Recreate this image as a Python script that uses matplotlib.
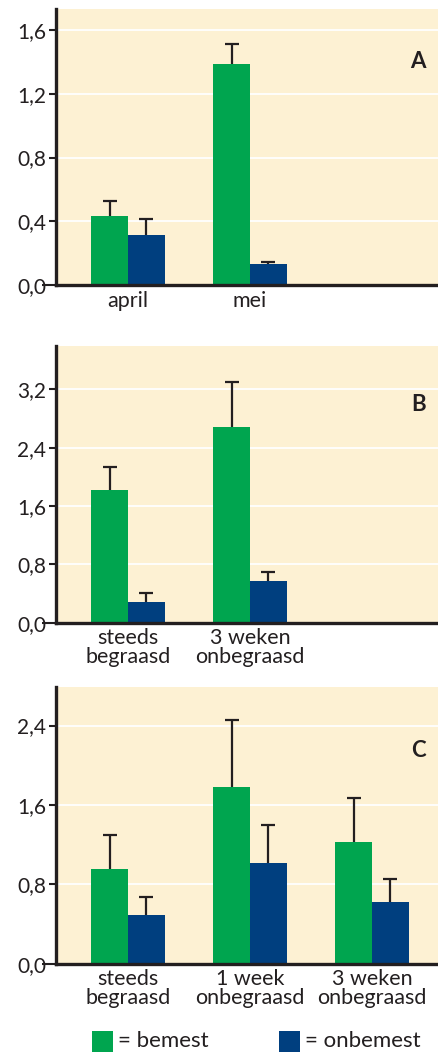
import matplotlib
matplotlib.use("Agg")
import matplotlib.pyplot as plt
from matplotlib.patches import Rectangle
import numpy as np

plt.rcParams['font.family'] = ['Lato', 'DejaVu Sans']

# ---- data ----
cats_A = ["april", "mei"]
bemest_A = [0.433, 1.388]
bemest_A_err = [0.093, 0.128]
onbemest_A = [0.314, 0.132]
onbemest_A_err = [0.099, 0.012]
yticks_A = [0.0, 0.4, 0.8, 1.2, 1.6]
ylim_A = 1.733

cats_B = ["steeds\nbegraasd", "3 weken\nonbegraasd"]
bemest_B = [1.816, 2.68]
bemest_B_err = [0.324, 0.62]
onbemest_B = [0.28, 0.568]
onbemest_B_err = [0.13, 0.132]
yticks_B = [0.0, 0.8, 1.6, 2.4, 3.2]
ylim_B = 3.795

cats_C = ["steeds\nbegraasd", "1 week\nonbegraasd", "3 weken\nonbegraasd"]
bemest_C = [0.955, 1.78, 1.227]
bemest_C_err = [0.345, 0.68, 0.443]
onbemest_C = [0.49, 1.015, 0.622]
onbemest_C_err = [0.185, 0.385, 0.228]
yticks_C = [0.0, 0.8, 1.6, 2.4]
ylim_C = 2.785

panel_labels = ["A", "B", "C"]
legend_labels = ["= bemest", "= onbemest"]

GREEN = "#00a54f"
BLUE = "#003f7f"
DARK = "#231f20"
CREAM = "#fdf1d3"

fig = plt.figure(figsize=(4.38, 10.52), dpi=100)

W = 438.0
H = 1052.0
left = 56 / W
panels = [
    (cats_A, bemest_A, bemest_A_err, onbemest_A, onbemest_A_err, yticks_A, ylim_A, 9, 285),
    (cats_B, bemest_B, bemest_B_err, onbemest_B, onbemest_B_err, yticks_B, ylim_B, 346, 622.7),
    (cats_C, bemest_C, bemest_C_err, onbemest_C, onbemest_C_err, yticks_C, ylim_C, 687.3, 963.7),
]
label_y = [0.81, 0.79, 0.77]

bw = 0.30
for i, (cats, g, ge, b, be, yt, ylim, top, bot) in enumerate(panels):
    ax = fig.add_axes([left, 1 - bot / H, 1 - left, (bot - top) / H])
    ax.set_facecolor(CREAM)
    x = np.arange(len(cats))
    ax.set_xlim(-0.59, 2.54)
    ax.set_ylim(0, ylim)
    for t in yt[1:]:
        ax.axhline(t, color="white", lw=1.3, zorder=1)
    ax.bar(x - bw / 2, g, width=bw, color=GREEN, zorder=2)
    ax.bar(x + bw / 2, b, width=bw, color=BLUE, zorder=2)
    for xs, vals, errs in [(x - bw / 2, g, ge), (x + bw / 2, b, be)]:
        _, caps, _ = ax.errorbar(xs, vals, yerr=[np.zeros(len(vals)), errs], fmt='none',
                                 ecolor=DARK, elinewidth=1.6, capsize=5, capthick=1.6, zorder=3)
        caps[0].set_visible(False)
    ax.set_yticks(yt)
    ax.set_yticklabels([f"{t:.1f}".replace(".", ",") for t in yt], fontsize=15, color=DARK)
    ax.tick_params(axis='y', length=5, width=1.5, color=DARK, pad=2)
    ax.set_xticks(x)
    ax.set_xticklabels(cats, fontsize=15.5, color=DARK, linespacing=0.92)
    ax.tick_params(axis='x', length=0, pad=4)
    ticks = ax.yaxis.get_major_ticks()
    ticks[0].tick1line.set_markersize(10)
    for s in ["top", "right"]:
        ax.spines[s].set_visible(False)
    for s in ["left", "bottom"]:
        ax.spines[s].set_linewidth(2.4)
        ax.spines[s].set_color(DARK)
        ax.spines[s].set_zorder(4)
    ax.text(0.968, label_y[i], panel_labels[i],
            transform=ax.transAxes, ha="right", va="center",
            fontsize=16, fontweight="bold", color=DARK)

# legend
for xpx, col, lab in [(92, GREEN, legend_labels[0]), (279, BLUE, legend_labels[1])]:
    fig.patches.append(Rectangle((xpx / W, 0), 21 / W, 21 / H, transform=fig.transFigure,
                                 facecolor=col, edgecolor="none"))
    fig.text((xpx + 26) / W, 1 - 1041 / H, lab, fontsize=16, color=DARK,
             ha="left", va="center")

fig.savefig("out.png", dpi=100, facecolor="white")
